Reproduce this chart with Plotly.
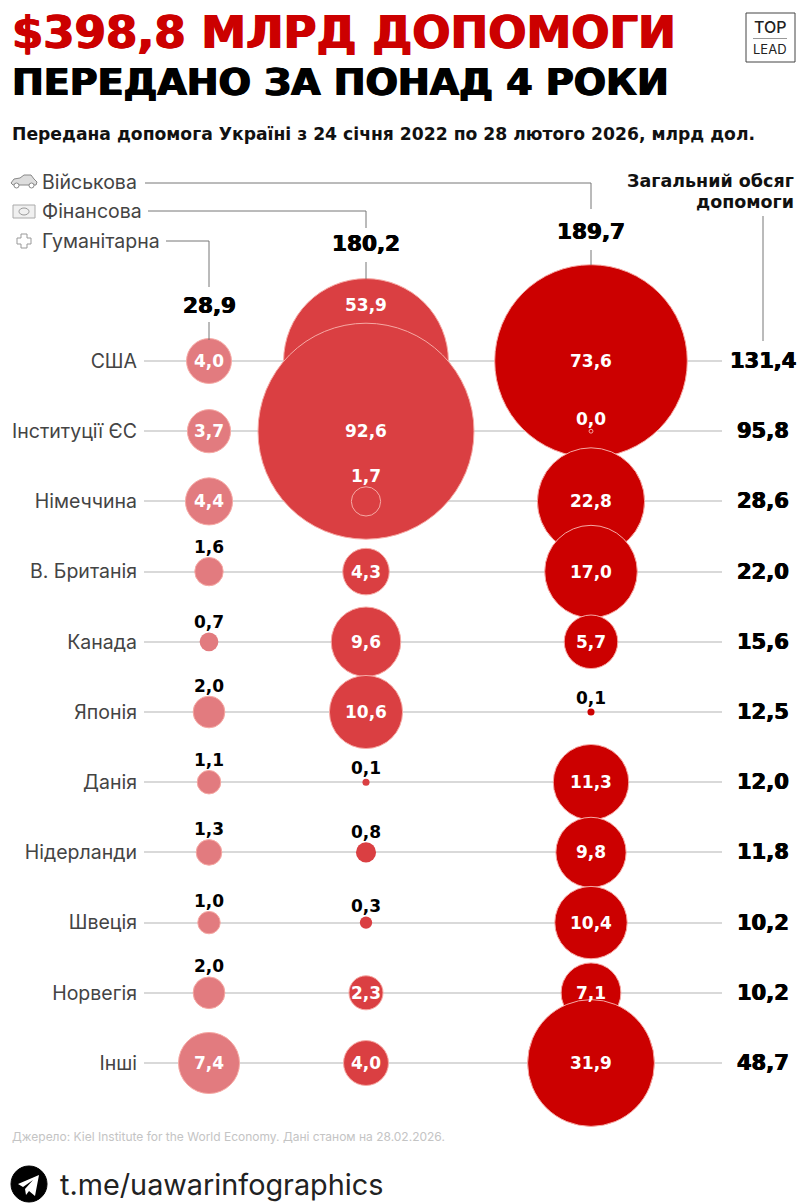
import plotly.graph_objects as go

countries = ["США", "Інституції ЄС", "Німеччина", "В. Британія", "Канада", "Японія",
             "Данія", "Нідерланди", "Швеція", "Норвегія", "Інші"]
humanitarian = [4.0, 3.7, 4.4, 1.6, 0.7, 2.0, 1.1, 1.3, 1.0, 2.0, 7.4]
financial = [53.9, 92.6, 1.7, 4.3, 9.6, 10.6, 0.1, 0.8, 0.3, 2.3, 4.0]
military = [73.6, 0.03, 22.8, 17.0, 5.7, 0.1, 11.3, 9.8, 10.4, 7.1, 31.9]
totals = [131.4, 95.8, 28.6, 22.0, 15.6, 12.5, 12.0, 11.8, 10.2, 10.2, 48.7]
column_totals = [28.9, 180.2, 189.7]
column_names = ["Гуманітарна", "Фінансова", "Військова"]

W, H = 808, 1203
LEFT, RIGHT = 144, 722
ROW0, ROW_STEP = 361, 70.2
COL_X = [209, 366, 591]
TOTAL_X = 763
SIZEREF = 0.00397
COLORS = ["#E27B7F", "#DA3F42", "#CC0000"]
FONT = "Inter"
WIDE = "DejaVu Sans"
GREY = "#444444"


def fmt(v):
    return f"{v:.1f}".replace(".", ",")


def px(x):
    return (x - LEFT) / (RIGHT - LEFT)


def py(y):
    return 1 - y / H


def radius(v):
    return (v / (2 * SIZEREF)) ** 0.5


def heavy(color, w=0.5):
    return f"{w}px 0 0 {color}, -{w}px 0 0 {color}"


def label(x, y, text, size, color="#000000", weight=400, anchor="left", family=FONT, shadow="none"):
    fig.add_annotation(x=px(x), y=py(y), xref="paper", yref="paper", text=text, showarrow=False,
                       xanchor=anchor, yanchor="middle", borderpad=0,
                       font=dict(family=family, size=size, color=color, weight=weight, shadow=shadow))


def line(points, color="#777777", width=1):
    path = "M" + " L".join(f"{px(x)},{py(y)}" for x, y in points)
    fig.add_shape(type="path", path=path, xref="paper", yref="paper",
                  line=dict(color=color, width=width))


def icon(path, color=None, fill="rgba(0,0,0,0)", width=1):
    # path is written in page pixels
    out = []
    for tok in path.split():
        if "," in tok:
            x, y = tok.split(",")
            out.append(f"{px(float(x))},{py(float(y))}")
        else:
            out.append(tok)
    fig.add_shape(type="path", path=" ".join(out), xref="paper", yref="paper", fillcolor=fill,
                  line=dict(color=color or "rgba(0,0,0,0)", width=width))


def ring(x0, x1, y0, y1, color="#999999", fill="rgba(0,0,0,0)"):
    fig.add_shape(type="circle", xref="paper", yref="paper", x0=px(x0), x1=px(x1), y0=py(y1), y1=py(y0),
                  fillcolor=fill, line=dict(color=color, width=1))


fig = go.Figure()

for i, vals in enumerate([humanitarian, financial, military]):
    fig.add_trace(go.Scatter(
        x=[COL_X[i]] * len(countries), y=countries, mode="markers", name=column_names[i],
        cliponaxis=False, showlegend=False,
        marker=dict(size=vals, sizemode="area", sizeref=SIZEREF, color=COLORS[i], opacity=1,
                    line=dict(color="#F6A9A4", width=[1 if v >= 1 or v < 0.05 else 0 for v in vals])),
    ))

    # labels on the bubbles, small bubbles get theirs above
    for j, v in enumerate(vals):
        on_big = (i == 1 and countries[j] == "Німеччина") or (i == 2 and countries[j] == "Інституції ЄС")
        inside = v > 2.1
        shift = 0
        if not inside:
            shift = radius(v) + 10.5
        if i == 1 and countries[j] == "США":
            shift = 56
        fig.add_annotation(x=COL_X[i], y=countries[j], xref="x", yref="y", text=fmt(v), showarrow=False,
                           yshift=shift, yanchor="middle",
                           font=dict(family=WIDE, size=17, weight=700,
                                     color="#FFFFFF" if inside or on_big else "#000000"))

for country, v in zip(countries, totals):
    fig.add_annotation(x=px(TOTAL_X), y=country, xref="paper", yref="y", text=fmt(v), showarrow=False,
                       xanchor="center", yanchor="middle",
                       font=dict(family=WIDE, size=21, color="#000000", weight=700, shadow=heavy("#000000")))

# titles
label(11, 32, "$398,8 МЛРД ДОПОМОГИ", 45, "#CC0000", 700, family=WIDE, shadow=heavy("#CC0000", 0.8))
label(11, 82, "ПЕРЕДАНО ЗА ПОНАД 4 РОКИ", 38, "#000000", 700, family=WIDE, shadow=heavy("#000000", 0.8))
label(11, 134, "Передана допомога Україні з 24 січня 2022 по 28 лютого 2026, млрд дол.", 17.2, "#111111", 700,
      family=WIDE)

# legend names with leader lines
label(41, 182, column_names[2], 19.5, GREY)
label(41, 211, column_names[1], 19.5, GREY)
label(41, 241, column_names[0], 19.5, GREY)
line([(145, 183), (591, 183), (591, 209)])
line([(148, 211), (366, 211), (366, 228)])
line([(166, 241), (209, 241), (209, 287)])
line([(366, 262), (366, 279)])
line([(591, 250), (591, 265)])
line([(209, 322), (209, 340)])
line([(763, 216), (763, 341)])

# column totals
for x, y, v in zip(COL_X, [305, 244, 231], column_totals):
    label(x, y, fmt(v), 21.5, "#000000", 700, "center", family=WIDE, shadow=heavy("#000000"))

label(795, 181, "Загальний обсяг", 17.5, "#111111", 700, "right", family=WIDE)
label(795, 202, "допомоги", 17.5, "#111111", 700, "right", family=WIDE)

# small icons
icon("M 11,183 L 14,179 L 20,178 L 24,175 L 31,175 L 34,179 L 37,182 L 36,185 L 13,185 Z", "#888888", "#DDDDDD")
ring(14, 19, 183, 188, "#888888", "#FFFFFF")
ring(29, 34, 183, 188, "#888888", "#FFFFFF")
icon("M 13,205 L 35,205 L 35,218 L 13,218 Z", "#AAAAAA", "#F0F0F0")
ring(19, 29, 208, 215)
icon("M 21,234 L 27,234 L 27,238 L 31,238 L 31,244 L 27,244 L 27,248 L 21,248 L 21,244 L 17,244 L 17,238 L 21,238 Z", "#999999")

# logo
fig.add_shape(type="rect", xref="paper", yref="paper", x0=px(746), x1=px(795), y0=py(62), y1=py(13),
              line=dict(color="#444444", width=1))
label(770.5, 27, "TOP", 16, "#222222", 500, "center")
line([(753, 38.5), (787, 38.5)], "#999999")
label(770.5, 49, "LEAD", 13, "#222222", 400, "center")

# footer
label(11, 1136, "Джерело: Kiel Institute for the World Economy. Дані станом на 28.02.2026.", 12, "#C4C4C4")
ring(11, 47, 1166, 1202, "#000000", "#000000")
icon("M 18,1184 L 39,1175 L 35,1196 L 29,1191 L 26,1195 L 25,1189 L 33,1180 L 23,1187 Z", fill="#FFFFFF")
label(59, 1184, "t.me/uawarinfographics", 28.8, "#222222")

fig.update_xaxes(range=[LEFT, RIGHT], visible=False, showgrid=False, zeroline=False)
fig.update_yaxes(type="category", categoryorder="array", categoryarray=countries,
                 range=[(H - ROW0) / ROW_STEP, -ROW0 / ROW_STEP],
                 showgrid=True, gridcolor="#D9D9D9", gridwidth=1.5, zeroline=False, showline=False,
                 ticks="", ticklabelstandoff=6, dtick=1,
                 tickfont=dict(family=FONT, size=19.5, color=GREY))
fig.update_layout(width=W, height=H, margin=dict(l=LEFT, r=W - RIGHT, t=0, b=0, pad=0),
                  paper_bgcolor="#FFFFFF", plot_bgcolor="#FFFFFF", showlegend=False)

fig.write_html("out.html", config=dict(displayModeBar=False),
               post_script="document.body.style.margin='0';")
